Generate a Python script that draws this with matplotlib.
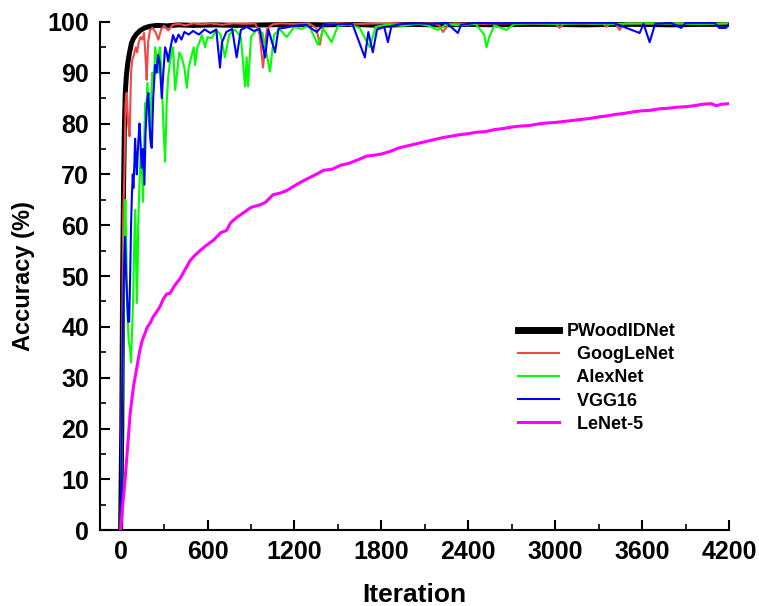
import matplotlib
matplotlib.use('Agg')
import matplotlib.pyplot as plt
from matplotlib.ticker import MultipleLocator

# PWoodIDNet
pw_iter = [0, 8, 14, 20, 26, 32, 40, 50, 62, 75, 90, 110, 135, 165, 200, 250, 320, 400, 500,
           650, 800, 1000, 1200, 1400, 1600, 1800, 2000, 2200, 2400, 2600, 2800, 3000, 3200,
           3400, 3600, 3800, 4000, 4200]
pw_acc = [0, 20, 50, 67, 79, 86, 89.5, 92, 94, 95.8, 96.8, 97.6, 98.3, 98.8, 99.1, 99.3, 99.2,
          99.4, 99.3, 99.4, 99.3, 99.4, 99.5, 99.4, 99.5, 99.3, 99.5, 99.4, 99.5, 99.4, 99.5,
          99.5, 99.4, 99.5, 99.5, 99.4, 99.5, 99.5]

# GoogLeNet
gl_iter = [0, 10, 18, 26, 34, 42, 52, 62, 72, 80, 92, 104, 114, 125, 138, 150, 162, 172, 180,
           190, 203, 220, 240, 261, 280, 300, 330, 360, 400, 450, 500, 560, 620, 700, 780, 860,
           930, 960, 983, 1010, 1050, 1100, 1200, 1300, 1350, 1376, 1400, 1500, 1650, 1800,
           2000, 2150, 2200, 2225, 2260, 2300, 2500, 2700, 2900, 3000, 3030, 3060, 3100, 3250,
           3330, 3353, 3380, 3420, 3445, 3470, 3500, 3700, 3900, 4100, 4200]
gl_acc = [0, 35, 62, 70, 84, 86, 80, 77.5, 90, 92.5, 93.5, 95, 94, 96, 97, 96.5, 97.8, 93, 88.6,
          96, 98.4, 98.8, 98, 96.5, 98.5, 99.2, 98.3, 99.4, 99.6, 99.3, 99.7, 99.5, 99.7, 99.4,
          99.7, 99.6, 99.7, 97.5, 91, 98.6, 99.5, 99.7, 99.6, 99.7, 98.8, 95.5, 99.4, 99.7,
          99.6, 99.7, 99.6, 99.7, 99.3, 98, 99.4, 99.7, 99.6, 99.7, 99.6, 99.7, 98.8, 99.6,
          99.7, 99.6, 99.7, 99.0, 99.7, 99.5, 98.4, 99.6, 99.7, 99.6, 99.7, 99.6, 99.7]

# AlexNet
ax_iter = [0, 10, 20, 28, 33, 40, 48, 56, 64, 72, 80, 86, 93, 100, 106, 112, 118, 121, 130, 140,
           148, 155, 162, 169, 176, 185, 194, 203, 212, 220, 230, 238, 248, 258, 266, 272, 282,
           295, 307, 318, 328, 345, 362, 376, 390, 405, 422, 440, 457, 470, 491, 505, 514, 530,
           545, 560, 575, 583, 600, 629, 660, 690, 720, 750, 790, 830, 859, 870, 880, 900, 940,
           980, 1031, 1060, 1100, 1146, 1200, 1250, 1300, 1362, 1400, 1456, 1500, 1580, 1650,
           1720, 1760, 1850, 1950, 2050, 2120, 2190, 2250, 2350, 2450, 2510, 2526, 2545, 2580,
           2663, 2720, 2850, 3000, 3200, 3400, 3600, 3800, 4000, 4200]
ax_acc = [0, 20, 45, 60, 65, 55, 42, 37, 36, 33, 40, 45, 55, 63, 55, 44.7, 52, 60, 68, 75, 70,
          64.6, 75, 84, 82, 88, 82, 77, 86, 90, 88, 95, 93, 90, 94, 95, 90, 80, 72.5, 84, 89, 93,
          95, 86.6, 90, 94, 93, 91, 87, 91, 93.5, 95, 91.5, 95, 96, 97.4, 96, 95, 97, 96.8, 98.4,
          97.5, 93, 97.5, 98.5, 97, 87.3, 93, 87.3, 97, 98.5, 97.8, 90.2, 97.5, 98.5, 97, 99,
          98.6, 99.3, 95.5, 98.6, 96, 99.2, 99.5, 98.8, 95, 99, 99.5, 99.2, 99.6, 99.3, 98.4,
          99.5, 99.3, 99.6, 97.5, 95, 97, 99.3, 98.4, 99.6, 99.7, 99.6, 99.7, 99.6, 99.7, 99.7,
          99.6, 99.7]

# VGG16
vg_iter = [0, 8, 16, 24, 31, 38, 46, 52, 59, 66, 72, 78, 84, 88, 95, 100, 106, 112, 118, 123,
           130, 136, 146, 155, 164, 172, 180, 186, 192, 200, 208, 215, 225, 238, 248, 259, 270,
           284, 295, 307, 318, 328, 345, 362, 380, 400, 420, 440, 470, 500, 540, 580, 620, 660,
           686, 700, 730, 770, 801, 830, 870, 920, 960, 997, 1020, 1066, 1090, 1130, 1200, 1280,
           1353, 1400, 1500, 1600, 1686, 1710, 1741, 1770, 1820, 1845, 1870, 1950, 2050, 2150,
           2250, 2328, 2350, 2450, 2600, 2800, 3000, 3200, 3400, 3583, 3610, 3652, 3690, 3800,
           3870, 3900, 4000, 4100, 4133, 4180, 4200]
vg_acc = [0, 20, 40, 52, 57.7, 50, 45, 41, 41, 50, 60, 66, 70, 67.3, 72, 77, 73, 70, 74, 76.8,
          80, 77, 71.3, 75, 68, 78, 83, 85, 86, 80, 76, 75.2, 85, 91.5, 90, 93.5, 92, 85, 90, 95,
          94, 92.2, 95, 97.4, 96, 97.5, 96.5, 98, 97.5, 98.2, 97.5, 98.5, 97.8, 98.5, 91, 96, 98,
          98.6, 93, 98.4, 99, 98.2, 98.6, 93, 98.5, 94, 98.7, 98.8, 99.2, 99.4, 98, 99.4, 99.5,
          99.6, 93, 98, 94, 98.5, 99, 96, 99.2, 99.6, 99.7, 99.6, 99.8, 97.8, 99.4, 99.8, 99.7,
          99.8, 99.8, 99.8, 99.8, 97.8, 99.6, 96, 99.6, 99.8, 98.8, 99.8, 99.8, 99.8, 98.8, 98.8,
          99.6]

# LeNet-5
ln_iter = [0, 15, 31, 50, 66, 90, 112, 130, 146, 165, 185, 203, 225, 250, 272, 295, 320, 341,
           370, 410, 440, 479, 510, 548, 590, 639, 690, 732, 760, 800, 846, 900, 962, 1000, 1053,
           1100, 1146, 1215, 1280, 1350, 1400, 1460, 1520, 1580, 1650, 1700, 1760, 1800, 1860,
           1920, 1980, 2040, 2100, 2160, 2220, 2280, 2340, 2400, 2460, 2520, 2580, 2640, 2700,
           2760, 2820, 2880, 2940, 3000, 3060, 3120, 3180, 3240, 3300, 3360, 3420, 3480, 3540,
           3600, 3660, 3720, 3780, 3840, 3900, 3960, 4020, 4080, 4110, 4150, 4200]
ln_acc = [0, 5, 10, 17, 23, 28.5, 32, 35, 37, 38.5, 40, 40.7, 42, 43, 44, 45.5, 46.5, 46.6, 48,
          49.5, 51, 53, 54, 55, 56, 57, 58.5, 59, 60.5, 61.5, 62.4, 63.5, 64, 64.5, 66, 66.3,
          66.8, 68, 69, 70, 70.8, 71, 71.8, 72.2, 73, 73.6, 73.8, 74, 74.5, 75.2, 75.6, 76,
          76.4, 76.8, 77.2, 77.5, 77.8, 78, 78.3, 78.4, 78.8, 79, 79.3, 79.5, 79.6, 79.9, 80.1,
          80.2, 80.4, 80.6, 80.8, 81, 81.3, 81.5, 81.8, 82, 82.3, 82.5, 82.6, 82.9, 83, 83.2,
          83.3, 83.5, 83.8, 83.9, 83.5, 83.8, 83.9]

plt.rcParams['font.family'] = ['Liberation Sans', 'DejaVu Sans']
plt.rcParams['font.weight'] = 'bold'

fig = plt.figure(figsize=(7.59, 6.06), dpi=100)
ax = fig.add_axes([0.132, 0.125, 0.8285, 0.839])

ax.plot(pw_iter, pw_acc, color='black', lw=3.6, label='PWoodIDNet', zorder=2)
ax.plot(gl_iter, gl_acc, color='#f04848', lw=1.5, label='  GoogLeNet', zorder=3)
ax.plot(ax_iter, ax_acc, color='#00ff00', lw=1.5, label='  AlexNet', zorder=4)
ax.plot(vg_iter, vg_acc, color='#0000ff', lw=1.5, label='  VGG16', zorder=5)
ax.plot(ln_iter, ln_acc, color='#ff00ff', lw=2.2, label='  LeNet-5', zorder=6)

ax.set_xlim(-141, 4200)
ax.set_ylim(0, 100)
ax.xaxis.set_major_locator(MultipleLocator(600))
ax.xaxis.set_minor_locator(MultipleLocator(300))
ax.yaxis.set_major_locator(MultipleLocator(10))
ax.yaxis.set_minor_locator(MultipleLocator(5))

for s in ['top', 'right']:
    ax.spines[s].set_visible(False)
for s in ['left', 'bottom']:
    ax.spines[s].set_linewidth(1.5)

ax.tick_params(which='major', direction='in', length=7, width=1.5, labelsize=18)
ax.tick_params(which='minor', direction='in', length=4, width=1.2)
ax.tick_params(axis='x', pad=7)
ax.tick_params(axis='y', pad=8)

ax.set_xlabel('Iteration', fontsize=19, fontweight='bold', labelpad=14)
ax.set_ylabel('Accuracy (%)', fontsize=17, fontweight='bold', labelpad=9)

leg = ax.legend(loc='upper left', bbox_to_anchor=(0.65, 0.425), frameon=False,
                handlelength=2.3, handletextpad=0.4, labelspacing=0.34,
                borderpad=0, prop={'weight': 'bold', 'size': 13})
leg.get_lines()[0].set_linewidth(5)

fig.savefig('out.png', dpi=100)
